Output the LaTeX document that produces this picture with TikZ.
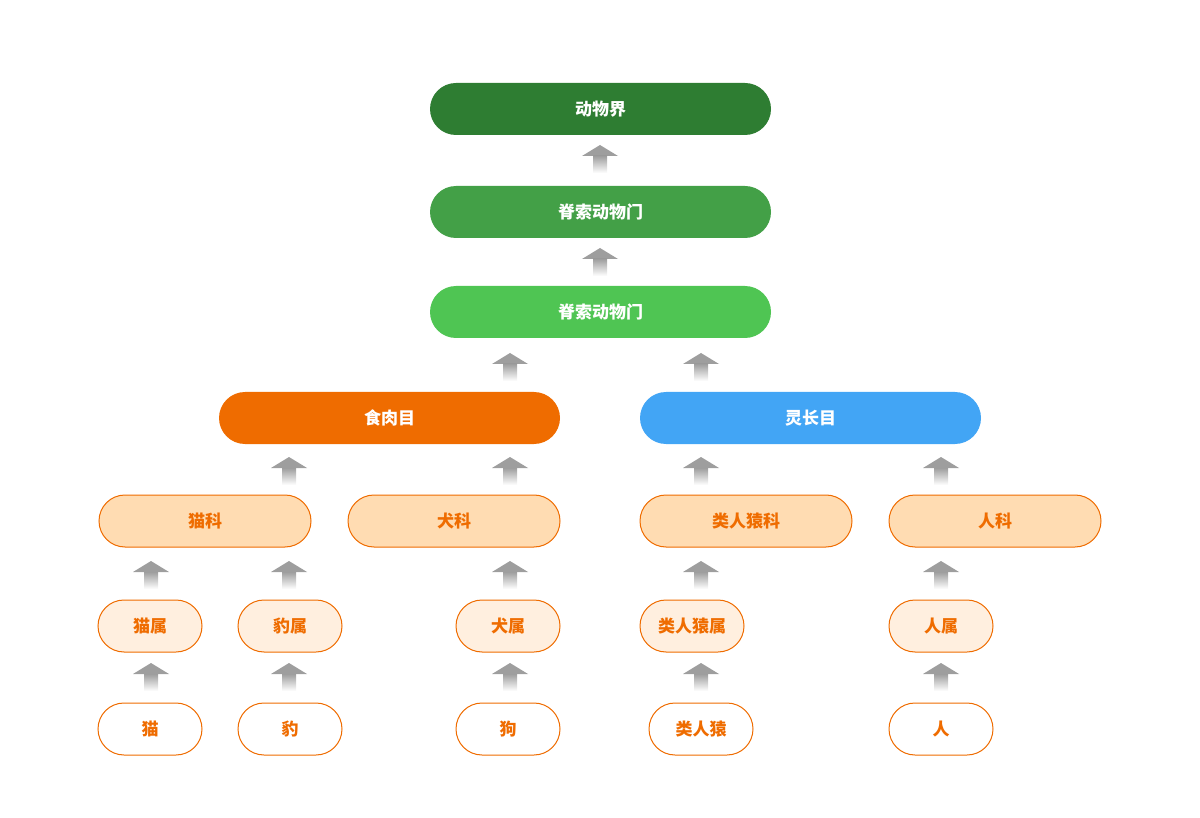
\documentclass[tikz,border=0pt]{standalone}
\usepackage{fontspec}
\setmainfont{Noto Sans CJK SC}
\usetikzlibrary{shadings}
\definecolor{kingdom}{HTML}{2E7D32}
\definecolor{phylum}{HTML}{43A047}
\definecolor{phylumlt}{HTML}{4FC553}
\definecolor{carni}{HTML}{EF6C00}
\definecolor{prima}{HTML}{42A5F5}
\definecolor{famfill}{HTML}{FFDCB2}
\definecolor{genfill}{HTML}{FFEFDF}
\definecolor{arrgray}{HTML}{9E9E9E}

\newcommand{\uparr}[2]{%
  \fill[arrgray] (#1-18,#2+11) -- (#1,#2) -- (#1+18,#2+11) -- cycle;
  \shade[top color=arrgray, bottom color=white] (#1-7,#2+11) rectangle (#1+7,#2+28);}

\begin{document}
\begin{tikzpicture}[x=0.5pt,y=-0.5pt,font=\fontsize{8.5}{10}\selectfont\bfseries]
    \tikzstyle{pill}=[rounded corners=13pt,minimum height=26pt,inner sep=0pt]
    \tikzstyle{order}=[pill,minimum width=170.5pt,text=white]
    \tikzstyle{family}=[pill,minimum width=106pt,fill=famfill,draw=carni,text=carni,line width=0.5pt]
    \tikzstyle{genus}=[pill,minimum width=52pt,fill=genfill,draw=carni,text=carni,line width=0.5pt]
    \tikzstyle{species}=[genus,fill=white]

    \useasboundingbox (0,0) rectangle (1200,818);

    %%% DRAW THE NODES
    \node[order,fill=kingdom] (K) at (600.5,109) {动物界};
    \node[order,fill=phylum] (P-1) at (600.5,212) {脊索动物门};
    \node[order,fill=phylumlt] (P-2) at (600.5,312) {脊索动物门};
    \node[order,fill=carni] (O-1) at (389.5,418) {食肉目};
    \node[order,fill=prima] (O-2) at (810.5,418) {灵长目};

    \foreach \name / \x / \txt in {1/205/猫科, 2/454/犬科, 3/746/类人猿科, 4/995/人科}
        \node[family] (F-\name) at (\x,521) {\txt};
    \foreach \name / \x / \txt in {1/150/猫属, 2/290/豹属, 3/508/犬属, 4/692/类人猿属, 5/941/人属}
        \node[genus] (G-\name) at (\x,626) {\txt};
    \foreach \name / \x / \txt in {1/150/猫, 2/290/豹, 3/508/狗, 4/701/类人猿, 5/941/人}
        \node[species] (S-\name) at (\x,729) {\txt};

    %%% DRAW THE ARROWS
    \uparr{600}{145}
    \uparr{600}{248}
    \foreach \x in {510,701}
        {\uparr{\x}{353}}
    \foreach \x in {289,510,701,941}
        {\uparr{\x}{457}}
    \foreach \x in {151,289,510,701,941}
        {\uparr{\x}{561}}
    \foreach \x in {151,289,510,701,941}
        {\uparr{\x}{663}}
\end{tikzpicture}
\end{document}
